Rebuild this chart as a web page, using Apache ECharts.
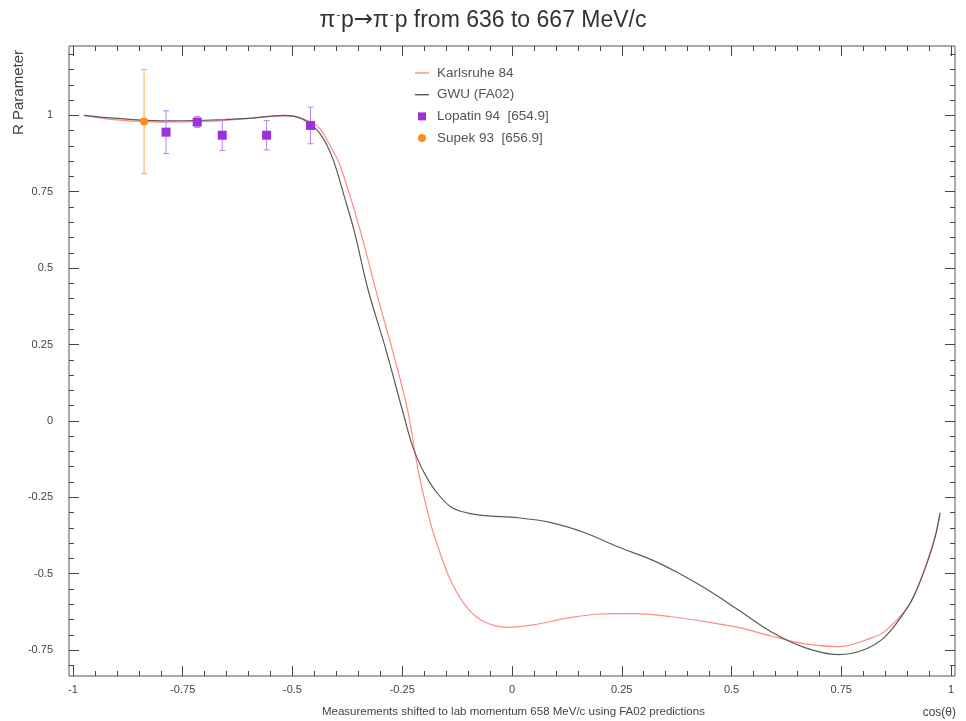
<!DOCTYPE html>
<html>
<head>
<meta charset="utf-8">
<script src="https://cdn.jsdelivr.net/npm/echarts@6/dist/echarts.min.js"></script>
<style>html,body{margin:0;padding:0;background:#fff}#c{width:966px;height:721px}</style>
</head>
<body>
<div id="c"></div>
<script>
// ---- data ----
const karX = [-0.975,-0.9,-0.8,-0.7,-0.6,-0.52,-0.48,-0.442,-0.415,-0.39,-0.344,-0.305,-0.271,-0.237,-0.214,-0.19,-0.175,-0.139,-0.1,-0.062,-0.009,0.052,0.128,0.203,0.28,0.362,0.44,0.515,0.59,0.667,0.743,0.818,0.85,0.902,0.925,0.948,0.964,0.975];
const karY = [1.0,0.985,0.978,0.98,0.99,0.998,0.99,0.963,0.903,0.83,0.614,0.40,0.225,0.03,-0.16,-0.31,-0.385,-0.525,-0.615,-0.658,-0.676,-0.667,-0.645,-0.632,-0.631,-0.641,-0.657,-0.676,-0.704,-0.73,-0.739,-0.711,-0.688,-0.608,-0.54,-0.45,-0.375,-0.31];
const gwuX = [-0.975,-0.9,-0.8,-0.7,-0.6,-0.52,-0.48,-0.44,-0.41,-0.38,-0.358,-0.328,-0.289,-0.248,-0.226,-0.2,-0.175,-0.139,-0.1,-0.062,0.014,0.089,0.166,0.241,0.317,0.378,0.44,0.515,0.59,0.667,0.743,0.8,0.85,0.902,0.925,0.948,0.964,0.975];
const gwuY = [1.0,0.99,0.982,0.984,0.99,1.0,0.99,0.945,0.865,0.725,0.614,0.43,0.242,0.026,-0.085,-0.17,-0.228,-0.282,-0.302,-0.31,-0.317,-0.333,-0.366,-0.412,-0.454,-0.497,-0.548,-0.618,-0.69,-0.742,-0.765,-0.75,-0.706,-0.608,-0.542,-0.454,-0.379,-0.30];
const lopX = [-0.788,-0.717,-0.660,-0.559,-0.459];
const lopY = [0.945,0.978,0.935,0.935,0.967];
const lopErr = [0.07,0.018,0.05,0.048,0.06];
const supX = [-0.838];
const supY = [0.98];
const supErr = [0.17];

const xMajor = [-1,-0.75,-0.5,-0.25,0,0.25,0.5,0.75,1];
const xLabels = ['-1','-0.75','-0.5','-0.25','0','0.25','0.5','0.75','1'];
const yMajor = [-0.75,-0.5,-0.25,0,0.25,0.5,0.75,1];
const yLabels = ['-0.75','-0.5','-0.25','0','0.25','0.5','0.75','1'];
const xMinor = [];
for (let i = -20; i <= 20; i++) xMinor.push(i / 20);
const yMinor = [];
for (let i = -16; i <= 24; i++) yMinor.push(i / 20);

const names = ['Karlsruhe 84', 'GWU (FA02)', 'Lopatin 94  [654.9]', 'Supek 93  [656.9]'];

// ---- build ----
const FONT = '"Liberation Sans", Arial, Helvetica, sans-serif';
const xMin = -1.009, xMax = 1.009, yMin = -0.835, yMax = 1.227;
const tickCol = '#444';

function lab(vals, labels) {
  return function (v) {
    for (let i = 0; i < vals.length; i++) if (Math.abs(vals[i] - v) < 1e-6) return labels[i];
    return '';
  };
}
function xAx(pos, major, showLabel) {
  return {
    type: 'value', min: xMin, max: xMax, position: pos, gridIndex: 0,
    axisLine: { show: false, onZero: false }, splitLine: { show: false },
    axisTick: { show: true, inside: true, length: major ? 10 : 5, customValues: major ? xMajor : xMinor, lineStyle: { color: tickCol, width: 1 } },
    axisLabel: { show: showLabel, customValues: xMajor, formatter: lab(xMajor, xLabels), color: '#444', fontSize: 11, fontFamily: FONT, margin: 8 }
  };
}
function yAx(pos, major, showLabel) {
  return {
    type: 'value', min: yMin, max: yMax, position: pos, gridIndex: 0,
    axisLine: { show: false, onZero: false }, splitLine: { show: false },
    axisTick: { show: true, inside: true, length: major ? 10 : 5, customValues: major ? yMajor : yMinor, lineStyle: { color: tickCol, width: 1 } },
    axisLabel: { show: showLabel, customValues: yMajor, formatter: lab(yMajor, yLabels), color: '#444', fontSize: 11, fontFamily: FONT, margin: 16 }
  };
}

function errRender(color) {
  return function (params, api) {
    const x = api.value(0), y = api.value(1), e = api.value(2);
    const t = api.coord([x, y + e]);
    const b = api.coord([x, y - e]);
    const st = { stroke: color, lineWidth: 1 };
    return {
      type: 'group',
      children: [
        { type: 'line', shape: { x1: t[0], y1: t[1], x2: b[0], y2: b[1] }, style: st },
        { type: 'line', shape: { x1: t[0] - 3, y1: t[1], x2: t[0] + 3, y2: t[1] }, style: st },
        { type: 'line', shape: { x1: b[0] - 3, y1: b[1], x2: b[0] + 3, y2: b[1] }, style: st }
      ]
    };
  };
}

const purple = '#9b30dc', purpleErr = '#c07ff0', orange = '#ff8c1a', orangeErr = '#ffa852';
const red = '#ff8a8a', gray = '#5a5a5a';

const option = {
  backgroundColor: '#fff',
  animation: false,
  title: {
    text: '{a|π}{s|-}{a|p}{r|→}{a|π}{s|-}{a|p from 636 to 667 MeV/c}',
    left: 'center', top: 4,
    textStyle: {
      fontWeight: 'normal',
      rich: {
        a: { fontSize: 23, fontWeight: 'normal', color: '#333', fontFamily: FONT },
        r: { fontSize: 23, fontWeight: 'normal', color: '#333', fontFamily: '"DejaVu Sans", sans-serif' },
        s: { fontSize: 11, fontWeight: 'normal', color: '#333', fontFamily: FONT, verticalAlign: 'top', padding: [0, 1, 12, 1] }
      }
    }
  },
  legend: {
    orient: 'vertical', left: 410, top: 61, itemWidth: 14, itemHeight: 8, itemGap: 7.7,
    textStyle: { fontSize: 13.5, color: '#555', fontFamily: FONT, lineHeight: 14, padding: [0, 0, 0, 3] },
    data: [
      { name: names[0], icon: 'path://M0,0H14V1.4H0Z', itemStyle: { color: red } },
      { name: names[1], icon: 'path://M0,0H14V1.4H0Z', itemStyle: { color: gray } },
      { name: names[2], icon: 'path://M0,0H10V10H0Z', itemStyle: { color: purple } },
      { name: names[3], icon: 'circle', itemStyle: { color: orange } }
    ]
  },
  grid: { left: 69, right: 11, top: 46, bottom: 45, show: true, borderColor: '#555', borderWidth: 1, backgroundColor: 'transparent' },
  xAxis: [xAx('bottom', true, true), xAx('bottom', false, false), xAx('top', true, false), xAx('top', false, false)],
  yAxis: [yAx('left', true, true), yAx('left', false, false), yAx('right', true, false), yAx('right', false, false)],
  graphic: [
    { type: 'text', left: 11, top: 50, rotation: Math.PI / 2, style: { text: 'R Parameter', fontSize: 15, fill: '#444', fontFamily: FONT } },
    { type: 'text', left: 322, top: 706, style: { text: 'Measurements shifted to lab momentum 658 MeV/c using FA02 predictions', fontSize: 11.5, fill: '#444', fontFamily: FONT } },
    { type: 'text', right: 10, top: 707, style: { text: 'cos(θ)', fontSize: 12, fill: '#444', fontFamily: FONT } }
  ],
  series: [
    { name: names[0], type: 'line', xAxisIndex: 0, yAxisIndex: 0, showSymbol: false, symbol: 'none', smooth: 0.35,
      lineStyle: { color: red, width: 1.2 }, itemStyle: { color: red }, z: 3,
      data: karX.map((x, i) => [x, karY[i]]) },
    { name: names[1], type: 'line', xAxisIndex: 0, yAxisIndex: 0, showSymbol: false, symbol: 'none', smooth: 0.35,
      lineStyle: { color: gray, width: 1.2 }, itemStyle: { color: gray }, z: 3,
      data: gwuX.map((x, i) => [x, gwuY[i]]) },
    { type: 'custom', xAxisIndex: 0, yAxisIndex: 0, renderItem: errRender(purpleErr), z: 4,
      encode: { x: 0, y: 1 }, data: lopX.map((x, i) => [x, lopY[i], lopErr[i]]) },
    { type: 'custom', xAxisIndex: 0, yAxisIndex: 0, renderItem: errRender(orangeErr), z: 4,
      encode: { x: 0, y: 1 }, data: supX.map((x, i) => [x, supY[i], supErr[i]]) },
    { name: names[2], type: 'scatter', xAxisIndex: 0, yAxisIndex: 0, symbol: 'rect', symbolSize: 9, itemStyle: { color: purple, opacity: 1 }, z: 5,
      data: lopX.map((x, i) => [x, lopY[i]]) },
    { name: names[3], type: 'scatter', xAxisIndex: 0, yAxisIndex: 0, symbol: 'circle', symbolSize: 8, itemStyle: { color: orange, opacity: 1 }, z: 5,
      data: supX.map((x, i) => [x, supY[i]]) }
  ]
};

const chart = echarts.init(document.getElementById('c'), null, { renderer: 'canvas' });
chart.setOption(option);
</script>
</body>
</html>
